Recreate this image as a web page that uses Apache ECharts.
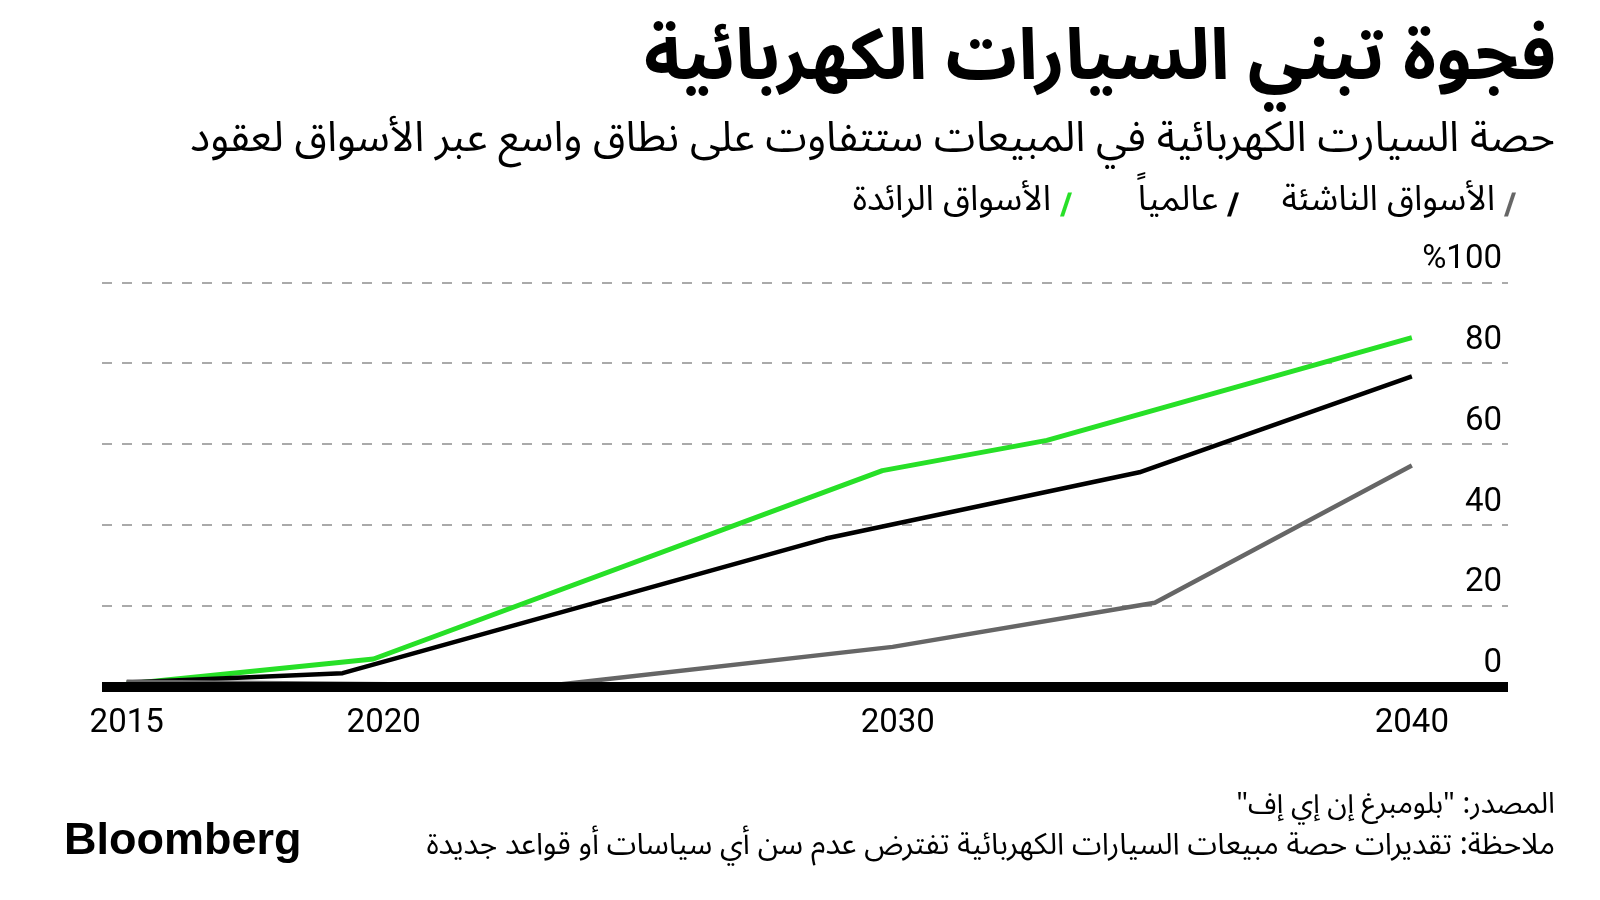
<!DOCTYPE html>
<html>
<head>
<meta charset="utf-8">
<script src="https://cdn.jsdelivr.net/npm/echarts@6/dist/echarts.min.js"></script>
<style>
html,body{margin:0;padding:0;background:#fff;}
#c{width:1600px;height:900px;}
</style>
</head>
<body>
<div id="c"></div>
<script>
// ---- data ----
const seriesNames = ['الأسواق الرائدة', 'عالمياً', 'الأسواق الناشئة'];
const xTickYears = [2015, 2020, 2030, 2040];
const yTickValues = [0, 20, 40, 60, 80, 100];

const developedYears  = [2015, 2019.8, 2029.7, 2032.9, 2040];
const developedValues = [0.6, 6.8, 53.4, 60.9, 86.3];

const globalYears  = [2015, 2019.2, 2028.6, 2034.7, 2040];
const globalValues = [1.0, 3.3, 36.6, 53.0, 76.7];

const emergingYears  = [2015, 2023.2, 2029.9, 2035.0, 2040];
const emergingValues = [1.2, 0.2, 9.8, 20.7, 54.7];

const titleText = 'فجوة تبني السيارات الكهربائية';
const subtitleText = 'حصة السيارت الكهربائية في المبيعات ستتفاوت على نطاق واسع عبر الأسواق لعقود';
const sourceText = 'المصدر: "بلومبرغ إن إي إف"\u200F';
const noteText = 'ملاحظة: تقديرات حصة مبيعات السيارات الكهربائية تفترض عدم سن أي سياسات أو قواعد جديدة';

// ---- build ----
const pairs = (xs, ys) => xs.map((x, i) => [x, ys[i]]);
const AR = "'Noto Sans Arabic','Noto Kufi Arabic','DejaVu Sans',sans-serif";
const NUM = "Roboto,'Liberation Sans',sans-serif";
const colors = ['#27e027', '#000000', '#666666'];
const slash = 'path://M8,0 L12,0 L4,24 L0,24 Z';

const chart = echarts.init(document.getElementById('c'), null, {renderer: 'canvas'});

function legendFor(i, right) {
  return {
    data: [seriesNames[i]], right: right, top: 182, icon: slash,
    itemWidth: 12, itemHeight: 24, align: 'right', selectedMode: false,
    textStyle: {fontFamily: AR, fontSize: 35, color: '#000', padding: [0, 4, 0, 0]}
  };
}

chart.setOption({
  animation: false,
  backgroundColor: '#ffffff',
  title: [
    {text: titleText, right: 39, top: 28, textStyle: {fontFamily: AR, fontSize: 71, fontWeight: 'bold', color: '#000'}},
    {text: subtitleText, right: 40, top: 119, textStyle: {fontFamily: AR, fontSize: 42, fontWeight: 'normal', color: '#000'}},
    {text: sourceText, right: 40, top: 789, textStyle: {fontFamily: AR, fontSize: 29, fontWeight: 'normal', color: '#000'}},
    {text: noteText, right: 40, top: 829, textStyle: {fontFamily: AR, fontSize: 30, fontWeight: 'normal', color: '#000'}},
    {text: 'Bloomberg', left: 59, top: 814, textStyle: {fontFamily: "'Liberation Sans',Arial,sans-serif", fontSize: 45, fontWeight: 'bold', color: '#000'}}
  ],
  legend: [legendFor(2, 79), legendFor(1, 356), legendFor(0, 523)],
  grid: {left: 102, right: 92, top: 282.3, bottom: 213.5},
  xAxis: {
    type: 'value', min: 2014.52, max: 2041.87, z: 5,
    axisLine: {show: true, onZero: false, lineStyle: {color: '#000', width: 10, cap: 'butt'}},
    axisTick: {show: false},
    splitLine: {show: false},
    axisLabel: {customValues: xTickYears, margin: 21, fontFamily: NUM, fontSize: 33, color: '#000', formatter: v => String(v)}
  },
  yAxis: {
    type: 'value', min: 0, max: 100, interval: 20, position: 'right',
    axisLine: {show: false}, axisTick: {show: false},
    splitLine: {show: true, lineStyle: {color: '#8f8f8f', width: 1.5, type: [10, 10]}},
    axisLabel: {
      inside: true, margin: 6, fontFamily: NUM, fontSize: 33, color: '#000',
      verticalAlign: 'bottom', lineHeight: 33, padding: [0, 0, 6, 0],
      formatter: v => v === 100 ? '%100' : String(v)
    }
  },
  series: [
    {name: seriesNames[0], type: 'line', data: pairs(developedYears, developedValues), showSymbol: false, z: 2,
     lineStyle: {color: colors[0], width: 5}, itemStyle: {color: colors[0]}},
    {name: seriesNames[1], type: 'line', data: pairs(globalYears, globalValues), showSymbol: false, z: 3,
     lineStyle: {color: colors[1], width: 4.5}, itemStyle: {color: colors[1]}},
    {name: seriesNames[2], type: 'line', data: pairs(emergingYears, emergingValues), showSymbol: false, z: 4,
     lineStyle: {color: colors[2], width: 4.5}, itemStyle: {color: colors[2]}}
  ]
});
</script>
</body>
</html>
